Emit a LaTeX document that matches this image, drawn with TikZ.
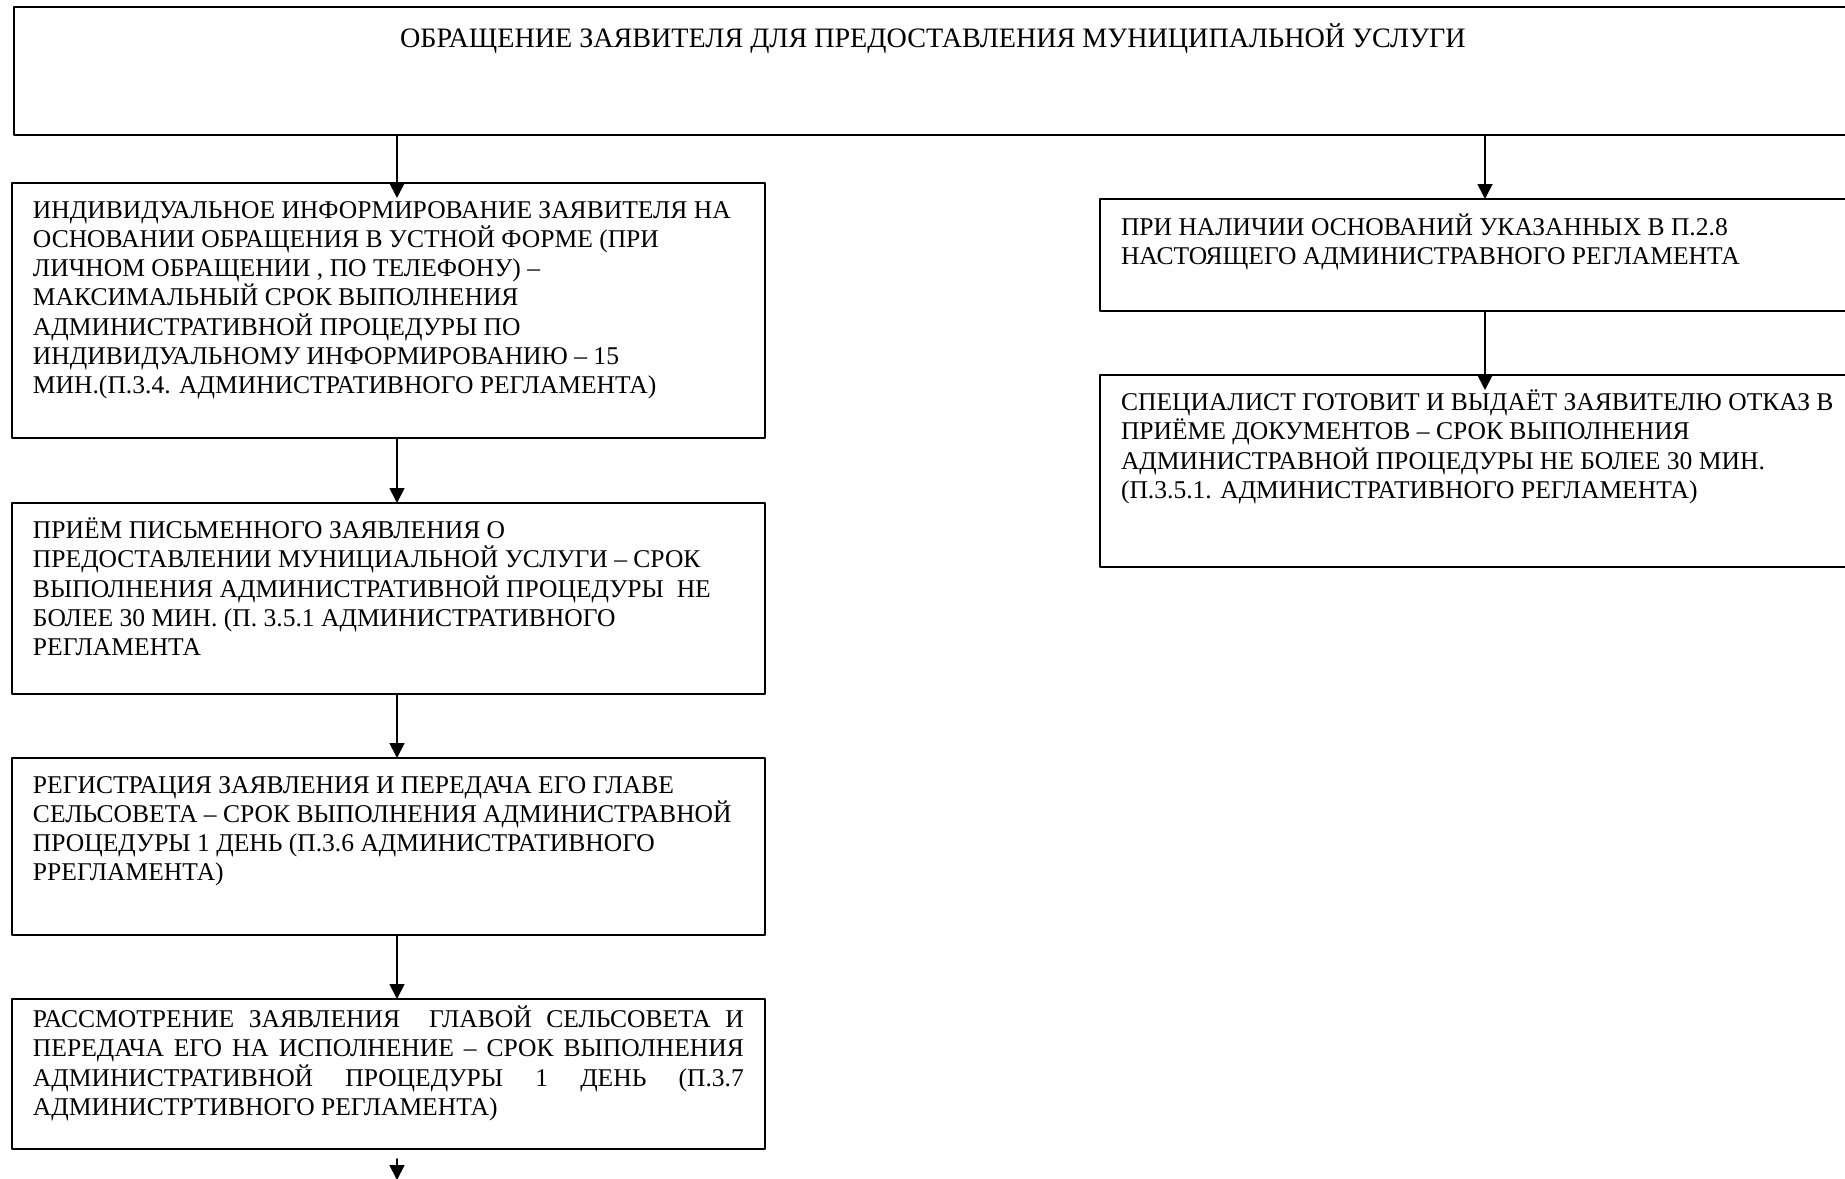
\documentclass[tikz,border=0pt]{standalone}
\usepackage{fontspec}
\setmainfont{Liberation Serif}
\usepackage{tikz}
\usetikzlibrary{arrows.meta}

% text of a stage box: height, width, lines (top aligned)
\newcommand{\stagetext}[3]{\parbox[c][#1][t]{#2}{\lineskiplimit=-\maxdimen\strut#3}}

\begin{document}
\begin{tikzpicture}[
  line cap=round,
  line join=round,
  font=\fontsize{7.27}{8.3}\selectfont,
  stage/.style={
    draw=black,
    line width=0.6pt,
    anchor=north west,
    inner xsep=0.21cm,
    inner ysep=0.15cm,
    outer sep=0pt
  },
  title/.style={
    stage,
    inner ysep=0.17cm,
    font=\fontsize{8}{9}\selectfont
  },
  arrow/.style={
    -{Triangle[length=1.5mm,width=1.5mm]},
    line width=0.5pt,
    draw=black
  },
  intoarrow/.style={
    arrow,
    shorten >=-1.5mm
  }
]

\useasboundingbox (0,0) rectangle (18.45,-11.78);

% =========================================================
% Request of the applicant
% =========================================================

\node[title] (request) at (0.14,-0.07)
{\stagetext{0.94cm}{17.96cm}{\centering
ОБРАЩЕНИЕ ЗАЯВИТЕЛЯ ДЛЯ ПРЕДОСТАВЛЕНИЯ МУНИЦИПАЛЬНОЙ УСЛУГИ}};

\coordinate (lcol) at (3.97,0);
\coordinate (rcol) at (14.85,0);

% =========================================================
% Left column: main procedure
% =========================================================

\node[stage] (inform) at (0.12,-1.83)
{\stagetext{2.25cm}{7.11cm}{%
ИНДИВИДУАЛЬНОЕ ИНФОРМИРОВАНИЕ ЗАЯВИТЕЛЯ НА\\
ОСНОВАНИИ ОБРАЩЕНИЯ В УСТНОЙ ФОРМЕ (ПРИ\\
ЛИЧНОМ ОБРАЩЕНИИ , ПО ТЕЛЕФОНУ) –\\
МАКСИМАЛЬНЫЙ СРОК ВЫПОЛНЕНИЯ\\
АДМИНИСТРАТИВНОЙ ПРОЦЕДУРЫ ПО\\
ИНДИВИДУАЛЬНОМУ ИНФОРМИРОВАНИЮ – 15\\
МИН.(П.3.4. АДМИНИСТРАТИВНОГО РЕГЛАМЕНТА)}};

\node[stage] (receive) at (0.12,-5.03)
{\stagetext{1.61cm}{7.11cm}{%
ПРИЁМ ПИСЬМЕННОГО ЗАЯВЛЕНИЯ О\\
ПРЕДОСТАВЛЕНИИ МУНИЦИАЛЬНОЙ УСЛУГИ – СРОК\\
ВЫПОЛНЕНИЯ АДМИНИСТРАТИВНОЙ ПРОЦЕДУРЫ\ \ НЕ\\
БОЛЕЕ 30 МИН. (П. 3.5.1 АДМИНИСТРАТИВНОГО\\
РЕГЛАМЕНТА}};

\node[stage] (register) at (0.12,-7.58)
{\stagetext{1.47cm}{7.11cm}{%
РЕГИСТРАЦИЯ ЗАЯВЛЕНИЯ И ПЕРЕДАЧА ЕГО ГЛАВЕ\\
СЕЛЬСОВЕТА – СРОК ВЫПОЛНЕНИЯ АДМИНИСТРАВНОЙ\\
ПРОЦЕДУРЫ 1 ДЕНЬ (П.3.6 АДМИНИСТРАТИВНОГО\\
РРЕГЛАМЕНТА)}};

\node[stage, inner ysep=0.07cm] (review) at (0.12,-9.99)
{\stagetext{1.36cm}{7.11cm}{%
РАССМОТРЕНИЕ ЗАЯВЛЕНИЯ\ \ ГЛАВОЙ СЕЛЬСОВЕТА И\linebreak
ПЕРЕДАЧА ЕГО НА ИСПОЛНЕНИЕ – СРОК ВЫПОЛНЕНИЯ\linebreak
АДМИНИСТРАТИВНОЙ ПРОЦЕДУРЫ 1 ДЕНЬ (П.3.7\linebreak
АДМИНИСТРТИВНОГО РЕГЛАМЕНТА)}};

\coordinate (next) at (3.97,-11.80);

\draw[intoarrow] (lcol |- request.south) -- (lcol |- inform.north);
\draw[arrow] (lcol |- inform.south) -- (lcol |- receive.north);
\draw[arrow] (lcol |- receive.south) -- (lcol |- register.north);
\draw[arrow] (lcol |- register.south) -- (lcol |- review.north);
\draw[arrow, shorten <=1mm] (lcol |- review.south) -- (next);

% =========================================================
% Right column: refusal
% =========================================================

\node[stage] (grounds) at (11.00,-1.99)
{\stagetext{0.82cm}{7.28cm}{%
ПРИ НАЛИЧИИ ОСНОВАНИЙ УКАЗАННЫХ В П.2.8\\
НАСТОЯЩЕГО АДМИНИСТРАВНОГО РЕГЛАМЕНТА}};

\node[stage] (refusal) at (11.00,-3.75)
{\stagetext{1.62cm}{7.28cm}{%
СПЕЦИАЛИСТ ГОТОВИТ И ВЫДАЁТ ЗАЯВИТЕЛЮ ОТКАЗ В\\
ПРИЁМЕ ДОКУМЕНТОВ – СРОК ВЫПОЛНЕНИЯ\\
АДМИНИСТРАВНОЙ ПРОЦЕДУРЫ НЕ БОЛЕЕ 30 МИН.\\
(П.3.5.1. АДМИНИСТРАТИВНОГО РЕГЛАМЕНТА)}};

\draw[arrow] (rcol |- request.south) -- (rcol |- grounds.north);
\draw[intoarrow] (rcol |- grounds.south) -- (rcol |- refusal.north);

\end{tikzpicture}
\end{document}
